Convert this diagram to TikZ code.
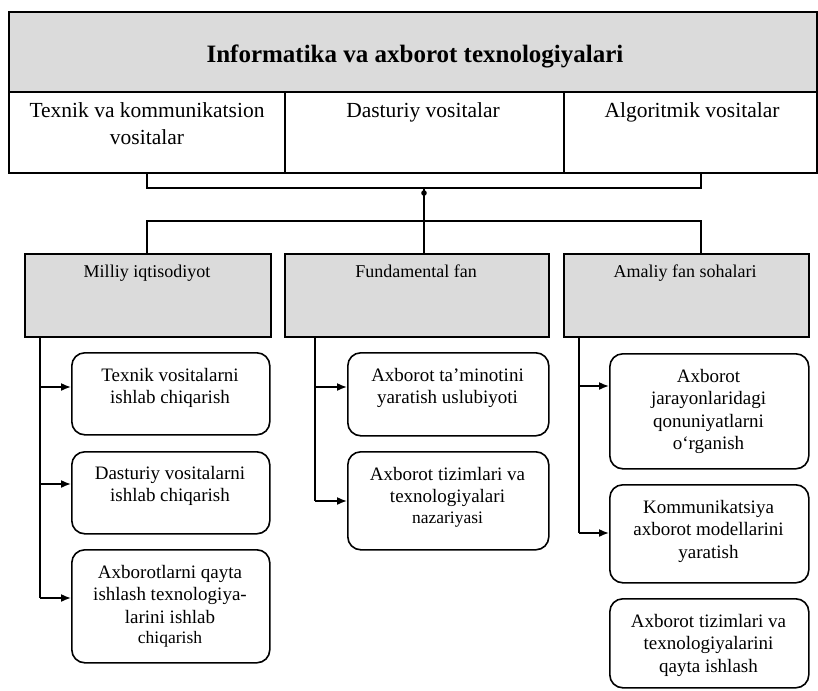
\documentclass[tikz,border=0pt]{standalone}
\usepackage{fontspec}
\setmainfont{Liberation Serif}
\usetikzlibrary{arrows.meta}
\begin{document}
\begin{tikzpicture}[x=1pt,y=-1pt,
  ln/.style={line width=1.6pt},
  shaded/.style={draw, line width=1.6pt, fill=black!14, inner sep=0pt, anchor=north west},
  plain/.style={draw, line width=1.6pt, fill=white, inner sep=0pt, anchor=north west},
  rbox/.style={draw, line width=1.6pt, rounded corners=13pt, fill=white, inner sep=0pt, anchor=north west},
  big/.style={font=\fontsize{21.5}{27}\selectfont, align=center, inner sep=0pt, anchor=north},
  mid/.style={font=\fontsize{18}{22}\selectfont, align=center, inner sep=0pt, anchor=north},
  txt/.style={font=\fontsize{19}{22.5}\selectfont, align=center, inner sep=0pt, anchor=north},
  arr/.style={line width=1.6pt, -{Latex[length=10pt,width=8pt]}},
]
\fill[white] (0,0) rectangle (818,690);
\useasboundingbox (0,0) rectangle (818,690);

% top block
\node[shaded, minimum width=808, minimum height=80] (title) at (8,11) {};
\node[font=\bfseries\fontsize{25}{30}\selectfont, inner sep=0pt] (titletext) at (415,56) {Informatika va axborot texnologiyalari};
\node[plain, minimum width=276, minimum height=81] (c1) at (8,91) {};
\node[plain, minimum width=279, minimum height=81] (c2) at (284,91) {};
\node[plain, minimum width=253, minimum height=81] (c3) at (563,91) {};
\node[big] (c1t) at (147,102) {Texnik va kommunikatsion\\vositalar};
\node[big] (c2t) at (423,102) {Dasturiy vositalar};
\node[big] (c3t) at (692,102) {Algoritmik vositalar};

% second level
\node[shaded, minimum width=246, minimum height=83] (g1) at (24,253) {};
\node[shaded, minimum width=264, minimum height=83] (g2) at (284,253) {};
\node[shaded, minimum width=245, minimum height=83] (g3) at (563,253) {};
\node[mid] (g1t) at (147,265) {Milliy iqtisodiyot};
\node[mid] (g2t) at (416,265) {Fundamental fan};
\node[mid] (g3t) at (685,265) {Amaliy fan sohalari};

% connectors between levels
\coordinate (ul) at (147,188);
\coordinate (ur) at (701,188);
\coordinate (um) at (424,188);
\coordinate (ll) at (147,221);
\coordinate (lr) at (701,221);
\coordinate (dot) at (424,193);
\draw[ln] (ul |- c1.south) -- (ul) -- (ur) -- (ur |- c3.south);
\draw[ln] (um) -- (um |- g2.north);
\fill (dot) circle (2.8);
\draw[ln] (ll |- g1.north) -- (ll) -- (lr) -- (lr |- g3.north);

% left column
\node[rbox, minimum width=198, minimum height=82] (a1) at (71,352) {};
\node[rbox, minimum width=198, minimum height=82] (a2) at (71,451) {};
\node[rbox, minimum width=198, minimum height=113] (a3) at (71,549) {};
\node[txt] (a1t) at (170,368) {Texnik vositalarni\\ishlab chiqarish};
\node[txt] (a2t) at (170,466) {Dasturiy vositalarni\\ishlab chiqarish};
\node[txt] (a3t) at (170,565) {Axborotlarni qayta\\ishlash texnologiya-\\larini ishlab\\[-2pt]{\fontsize{17.5}{20}\selectfont chiqarish}};
\coordinate (la1) at (40,387);
\coordinate (la2) at (40,484);
\coordinate (la3) at (40,598);
\draw[ln] (la1 |- g1.south) -- (la3);
\draw[arr] (la1) -- (la1 -| a1.west);
\draw[arr] (la2) -- (la2 -| a2.west);
\draw[arr] (la3) -- (la3 -| a3.west);

% middle column
\node[rbox, minimum width=201, minimum height=83] (b1) at (347,352) {};
\node[rbox, minimum width=201, minimum height=98] (b2) at (347,451) {};
\node[txt] (b1t) at (447.5,368) {Axborot ta’minotini\\yaratish uslubiyoti};
\node[txt] (b2t) at (447.5,467) {Axborot tizimlari va\\texnologiyalari\\[-2pt]{\fontsize{17.5}{20}\selectfont nazariyasi}};
\coordinate (lb1) at (315,387);
\coordinate (lb2) at (315,501);
\draw[ln] (lb1 |- g2.south) -- (lb2);
\draw[arr] (lb1) -- (lb1 -| b1.west);
\draw[arr] (lb2) -- (lb2 -| b2.west);

% right column
\node[rbox, minimum width=199, minimum height=115] (r1) at (609,353) {};
\node[rbox, minimum width=199, minimum height=98] (r2) at (609,484) {};
\node[rbox, minimum width=199, minimum height=89] (r3) at (609,598) {};
\node[txt] (r1t) at (708.5,369) {Axborot\\jarayonlaridagi\\qonuniyatlarni\\o‘rganish};
\node[txt] (r2t) at (708.5,500) {Kommunikatsiya\\axborot modellarini\\yaratish};
\node[txt] (r3t) at (708.5,614) {Axborot tizimlari va\\texnologiyalarini\\qayta ishlash};
\coordinate (lr1) at (579,386);
\coordinate (lr2) at (579,533);
\draw[ln] (lr1 |- g3.south) -- (lr2);
\draw[arr] (lr1) -- (lr1 -| r1.west);
\draw[arr] (lr2) -- (lr2 -| r2.west);
\end{tikzpicture}
\end{document}
